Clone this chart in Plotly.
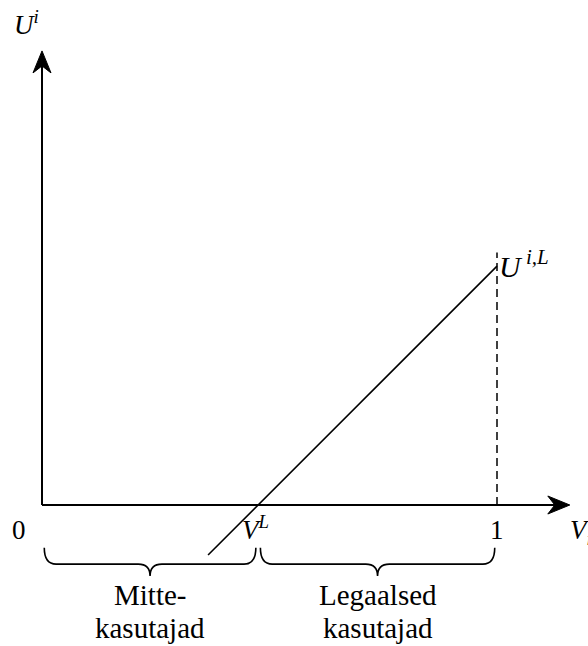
import plotly.graph_objects as go

# values (axis units: 0..1 on V_i)
v_l = 0.475                       # threshold V^L where utility crosses zero
line_x = [0.365, 1.0]             # utility line U^{i,L}
line_y = [-0.11, 0.525]
dash_x = [1.0, 1.0]               # dashed guide at V_i = 1
dash_y = [0.0, 0.555]
tick_vals = [0, 1]
tick_text = ["0", "1"]
group_labels = [["Mitte-", "kasutajad"], ["Legaalsed", "kasutajad"]]
group_bounds = [[0.005, v_l - 0.005], [v_l + 0.005, 0.995]]

FONT = "Liberation Serif, Times New Roman, serif"
PX = 455.0  # pixels per unit on both axes

fig = go.Figure()

# axes lines
fig.add_trace(go.Scatter(x=[0, 1.14], y=[0, 0], mode="lines",
                         line=dict(color="black", width=2), hoverinfo="skip"))
fig.add_trace(go.Scatter(x=[0, 0], y=[0, 0.975], mode="lines",
                         line=dict(color="black", width=2), hoverinfo="skip"))

# utility line and dashed guide
fig.add_trace(go.Scatter(x=line_x, y=line_y, mode="lines",
                         line=dict(color="black", width=1.6), hoverinfo="skip"))
fig.add_trace(go.Scatter(x=dash_x, y=dash_y, mode="lines",
                         line=dict(color="black", width=1.5, dash="8px,5px"), hoverinfo="skip"))


def arrow_head(tx, ty, direction):
    # notched arrow head, sizes in pixels converted to data units
    L, W, N = 22 / PX, 9 / PX, 7 / PX
    if direction == "right":
        pts = [(tx, ty), (tx - L, ty + W), (tx - L + N, ty), (tx - L, ty - W)]
    else:
        pts = [(tx, ty), (tx - W, ty - L), (tx, ty - L + N), (tx + W, ty - L)]
    return "M " + " L ".join(f"{x},{y}" for x, y in pts) + " Z"


fig.add_shape(type="path", path=arrow_head(1.16, 0, "right"), xref="x", yref="y",
              fillcolor="black", line=dict(color="black", width=1))
fig.add_shape(type="path", path=arrow_head(0, 0.998, "up"), xref="x", yref="y",
              fillcolor="black", line=dict(color="black", width=1))


def brace(x0, x1):
    yt, ym, yp, r = -0.094, -0.13, -0.156, 0.026
    xc = (x0 + x1) / 2
    return (f"M {x0},{yt} Q {x0},{ym} {x0 + r},{ym} L {xc - r},{ym} "
            f"Q {xc},{ym} {xc},{yp} Q {xc},{ym} {xc + r},{ym} "
            f"L {x1 - r},{ym} Q {x1},{ym} {x1},{yt}")


for (b0, b1), lines in zip(group_bounds, group_labels):
    fig.add_shape(type="path", path=brace(b0, b1), xref="x", yref="y",
                  line=dict(color="black", width=1.6))
    xc = (b0 + b1) / 2
    fig.add_annotation(x=xc, y=-0.198, text=lines[0], showarrow=False,
                       font=dict(family=FONT, size=29, color="black"))
    fig.add_annotation(x=xc, y=-0.27, text=lines[1], showarrow=False,
                       font=dict(family=FONT, size=29, color="black"))

# tick labels
fig.add_annotation(x=-0.05, y=-0.055, text=tick_text[0], showarrow=False,
                   font=dict(family=FONT, size=27, color="black"))
fig.add_annotation(x=tick_vals[1], y=-0.055, text=tick_text[1], showarrow=False,
                   font=dict(family=FONT, size=27, color="black"))

# variable labels
fig.add_annotation(x=v_l - 0.005, y=-0.05, text="<i>V</i><sup><i>L</i></sup>", showarrow=False,
                   font=dict(family=FONT, size=27, color="black"))
fig.add_annotation(x=1.155, y=-0.06, xanchor="left", text="<i>V<sub>i</sub></i>", showarrow=False,
                   font=dict(family=FONT, size=27, color="black"))
fig.add_annotation(x=-0.066, y=1.06, xanchor="left", text="<i>U</i><sup><i>i</i></sup>", showarrow=False,
                   font=dict(family=FONT, size=27, color="black"))
fig.add_annotation(x=1.0, y=0.53, xanchor="left", text="<i>U</i><sup> <i>i,L</i></sup>", showarrow=False,
                   font=dict(family=FONT, size=30, color="black"))

fig.update_layout(
    width=588, height=646, autosize=False,
    margin=dict(l=0, r=0, t=0, b=0),
    paper_bgcolor="white", plot_bgcolor="white",
    showlegend=False,
    xaxis=dict(range=[-42 / PX, 546 / PX], visible=False, fixedrange=True),
    yaxis=dict(range=[-141 / PX, 505 / PX], visible=False, fixedrange=True),
)

# drop the browser's default body margin so the figure sits at the page corner
fig.write_html("out.html", config={"displayModeBar": False},
               post_script="document.body.style.margin='0';document.body.style.overflow='hidden';")
